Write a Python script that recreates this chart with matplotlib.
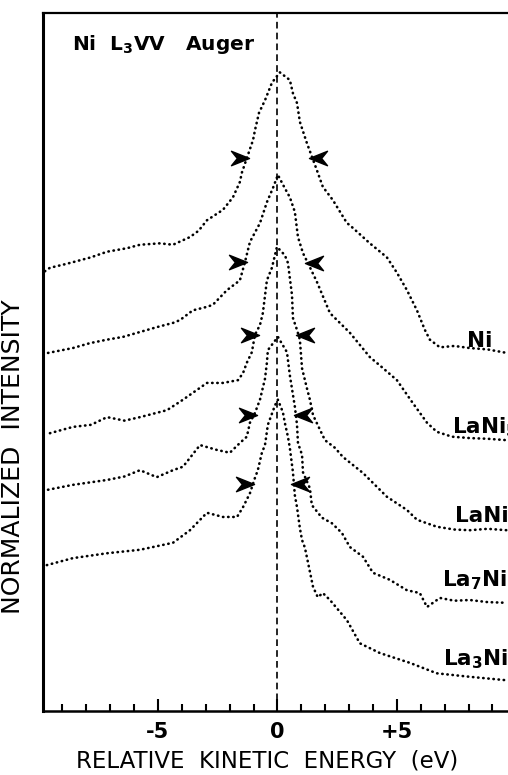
import numpy as np
import matplotlib
matplotlib.use("Agg")
from matplotlib import pyplot as plt
from matplotlib.path import Path

# relative kinetic energy (eV) and normalized intensity (offset, arb. units)
ni_e = [-9.73, -9.52, -8.9, -8.56, -7.8, -7.13, -6.3, -5.75, -4.92, -4.37, -3.66, -3.3, -2.95,
        -2.28, -1.86, -1.57, -1.49, -1.02, -0.94, -0.77, -0.52, -0.23, 0.10, 0.52, 0.65, 0.82,
        0.94, 1.23, 1.65, 1.90, 2.32, 2.91, 3.03, 3.87, 4.58, 5.0, 5.42, 5.84, 6.17, 6.38, 6.8,
        7.4, 8.05, 8.8, 9.6]
ni_i = [63.0, 63.5, 64.0, 64.3, 65.0, 65.8, 66.3, 66.8, 67.0, 66.8, 67.9, 68.8, 70.3,
        71.8, 73.6, 75.8, 77.1, 81.8, 83.2, 85.7, 87.5, 90.0, 91.5, 90.4, 88.5, 87.1,
        84.4, 81.4, 77.5, 75.1, 73.2, 69.9, 69.6, 67.0, 65.0, 62.8, 60.3, 57.4, 54.6, 53.2, 52.1,
        52.3, 52.0, 51.8, 51.3]

lani5_e = [-9.6, -8.56, -7.85, -7.13, -6.46, -5.75, -5.04, -4.37, -4.08, -3.54, -2.95, -2.70,
           -2.11, -1.57, -1.36, -1.15, -0.73, -0.44, -0.19, 0.02, 0.31, 0.52, 0.73, 0.86, 1.07,
           1.30, 1.65, 2.20, 3.03, 3.87, 4.29, 5.0, 5.67, 6.26, 6.67, 7.3, 8.05, 8.8, 9.6]
lani5_i = [51.3, 52.0, 52.7, 53.2, 53.6, 54.3, 55.0, 55.6, 56.0, 57.4, 57.9, 58.2,
           60.3, 61.7, 64.3, 67.2, 69.9, 72.9, 74.9, 76.8, 74.9, 73.6, 71.5, 67.9, 65.6,
           64.0, 61.5, 57.0, 54.2, 50.7, 49.5, 47.4, 44.1, 41.3, 40.0, 39.3, 39.1, 39.0, 38.8]

lani_e = [-9.52, -8.56, -7.8, -7.13, -6.4, -5.75, -4.62, -3.95, -2.95, -2.28, -1.65, -1.44,
          -1.28, -1.07, -0.94, -0.73, -0.61, -0.44, -0.23, -0.02, 0.31, 0.44, 0.61, 0.65, 0.82,
          0.94, 1.03, 1.23, 1.36, 1.49, 1.78, 1.99, 2.41, 2.74, 3.58, 4.58, 5.42, 5.84, 6.67,
          7.4, 8.05, 8.8, 9.6]
lani_i = [39.8, 40.7, 41.0, 42.1, 41.6, 42.1, 43.1, 44.6, 47.0, 47.0, 47.4, 48.4,
          49.9, 51.4, 53.9, 55.3, 57.0, 61.7, 63.5, 66.5, 65.3, 64.2, 59.6, 56.3, 54.6,
          53.2, 49.1, 46.3, 44.6, 42.4, 40.3, 38.8, 37.7, 36.4, 34.1, 30.7, 28.8, 27.4, 26.4,
          26.0, 25.9, 26.1, 25.9]

la7ni3_e = [-9.6, -8.56, -7.13, -6.4, -5.75, -5.05, -4.37, -3.95, -3.24, -2.53, -1.99, -1.57,
            -1.28, -1.15, -0.94, -0.73, -0.52, -0.44, -0.40, 0.02, 0.40, 0.52, 0.73, 0.82, 0.86,
            1.03, 1.07, 1.36, 1.44, 1.86, 2.28, 2.70, 3.03, 3.58, 4.0, 4.7, 5.42, 5.96, 6.26,
            6.8, 7.4, 8.05, 8.8, 9.6]
la7ni3_i = [31.7, 32.4, 33.1, 33.6, 34.5, 33.5, 34.5, 35.0, 38.1, 37.4, 37.0, 38.4,
            39.3, 41.3, 42.7, 44.6, 47.6, 49.9, 51.7, 53.6, 51.4, 48.1, 43.6, 41.0, 38.4,
            36.7, 34.2, 31.9, 29.5, 27.7, 26.9, 25.5, 23.5, 22.1, 19.8, 18.8, 17.3, 16.9, 14.9,
            16.2, 15.8, 15.9, 15.6, 15.5]

la3ni_e = [-9.65, -8.56, -7.13, -5.75, -4.37, -3.66, -2.95, -2.28, -1.69, -1.44, -1.15, -0.94,
           -0.82, -0.65, -0.52, -0.40, -0.10, 0.02, 0.23, 0.31, 0.44, 0.52, 0.65, 0.73, 0.82,
           0.94, 1.03, 1.15, 1.23, 1.49, 1.69, 1.90, 2.20, 2.91, 3.45, 4.29, 5.54, 6.67, 8.05, 9.6]
la3ni_i = [20.9, 21.9, 22.6, 23.1, 24.1, 25.9, 28.4, 27.8, 27.8, 29.2, 31.2, 33.4,
           34.5, 37.0, 38.1, 41.0, 43.8, 44.6, 42.8, 41.3, 39.3, 37.7, 34.2, 30.9, 29.2,
           26.2, 24.5, 23.4, 22.1, 17.8, 16.3, 16.9, 15.9, 13.0, 9.7, 8.3, 6.9, 5.4, 4.9, 4.4]

# half-width markers
left_arrow_e = [-1.57, -1.65, -1.15, -1.23, -1.36]
left_arrow_i = [79.2, 64.3, 53.9, 42.4, 32.5]
right_arrow_e = [1.69, 1.53, 1.15, 1.07, 0.94]
right_arrow_i = [79.2, 64.2, 53.9, 42.4, 32.5]

names = ["Ni", "LaNi$_5$", "LaNi", "La$_7$Ni$_3$", "La$_3$Ni"]
label_e = [7.95, 7.3, 7.45, 6.9, 6.95]
label_i = [52.1, 39.8, 27.1, 17.8, 6.6]

curves = [(ni_e, ni_i), (lani5_e, lani5_i), (lani_e, lani_i),
          (la7ni3_e, la7ni3_i), (la3ni_e, la3ni_i)]

plt.rcParams['font.family'] = ['DejaVu Sans']
plt.rcParams['mathtext.default'] = 'bf'

fig = plt.figure(figsize=(5.08, 7.75), dpi=100)
ax = fig.add_axes([43 / 508, 64 / 775, 465 / 508, 698 / 775])
ax.set_xlim(-9.81, 9.65)
ax.set_ylim(0, 100)

for e, i in curves:
    ax.plot(e, i, color='black', lw=1.9, linestyle=(0, (0.15, 1.8)),
            dash_capstyle='round')

arrow_r = Path([(1, 0), (-1, 0.8), (-0.35, 0), (-1, -0.8), (1, 0)],
               [Path.MOVETO, Path.LINETO, Path.LINETO, Path.LINETO, Path.CLOSEPOLY])
arrow_l = Path([(-1, 0), (1, 0.8), (0.35, 0), (1, -0.8), (-1, 0)],
               [Path.MOVETO, Path.LINETO, Path.LINETO, Path.LINETO, Path.CLOSEPOLY])
ax.plot(left_arrow_e, left_arrow_i, ls='none', marker=arrow_r, ms=13, color='black')
ax.plot(right_arrow_e, right_arrow_i, ls='none', marker=arrow_l, ms=13, color='black')

ax.axvline(0, color='black', lw=1.2, dashes=(4, 2.5))

for n, x, y in zip(names, label_e, label_i):
    ax.text(x, y, n, fontsize=15.5, fontweight='bold', va='baseline', ha='left')

ax.text(-8.6, 94.7, "Ni  L$_3$VV   Auger", fontsize=14.5, fontweight='bold',
        va='baseline', ha='left')

ax.spines['right'].set_visible(False)
ax.spines['left'].set_linewidth(2.2)
ax.spines['bottom'].set_linewidth(1.8)
ax.spines['top'].set_linewidth(1.6)
ax.set_yticks([])
ax.set_xticks([-5, 0, 5])
ax.set_xticklabels(['-5', '0', '+5'], fontsize=15, fontweight='bold')
ax.set_xticks([v for v in range(-9, 10) if v % 5 != 0], minor=True)
ax.tick_params(axis='x', which='major', direction='in', length=9, width=1.5, pad=8)
ax.tick_params(axis='x', which='minor', direction='in', length=5, width=1.5)
ax.set_xlabel("RELATIVE  KINETIC  ENERGY  (eV)", fontsize=16.5)
ax.xaxis.set_label_coords(0.4817, -0.055)

fig.text(13 / 508, 1 - 457 / 775, "NORMALIZED  INTENSITY", fontsize=18,
         rotation=90, va='center', ha='center')

fig.savefig('out.png', dpi=100)
